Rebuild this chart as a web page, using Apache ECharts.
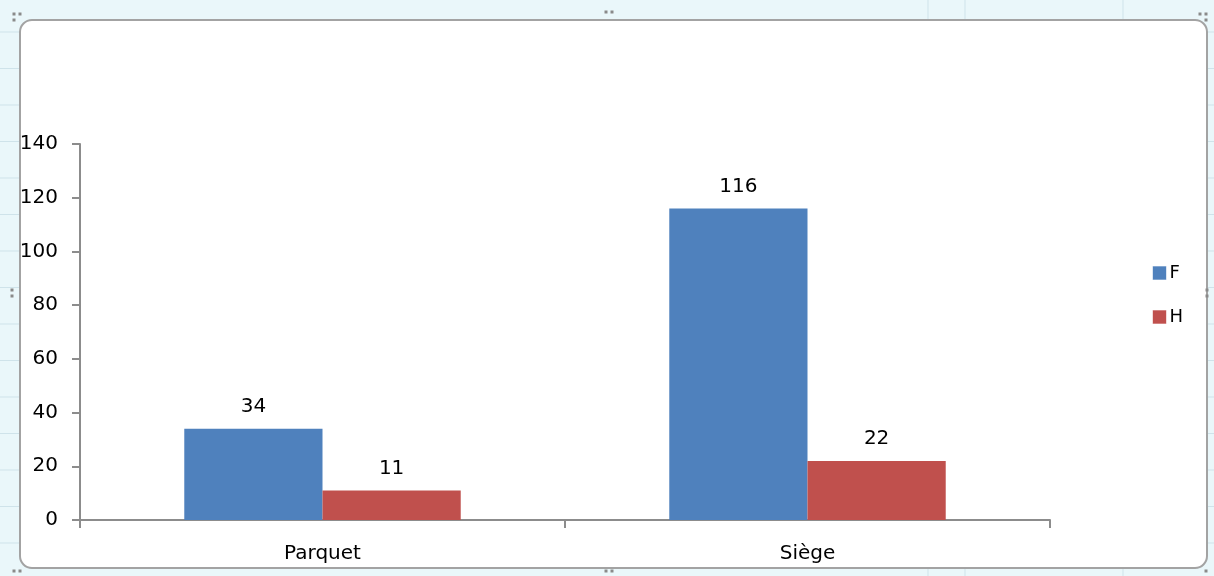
<!DOCTYPE html>
<html>
<head>
<meta charset="utf-8">
<title>F / H</title>
<style>
  html, body { margin: 0; padding: 0; background: #eaf7fa; }
  #chart { width: 1214px; height: 576px; }
</style>
<script src="https://cdn.jsdelivr.net/npm/echarts@6/dist/echarts.min.js"></script>
</head>
<body>
<div id="chart"></div>
<script>
// données
var categories = ['Parquet', 'Siège'];
var seriesNames = ['F', 'H'];
var valuesF = [34, 116];
var valuesH = [11, 22];
var yTicks = [0, 20, 40, 60, 80, 100, 120, 140];

var colors = ['#4f81bd', '#c0504d'];
var font = 'DejaVu Sans, Verdana, sans-serif';

// fond "tableur" : lignes de cellules autour du cadre
var sheet = [];
for (var y = 32; y < 576; y += 36.5) {
    sheet.push({ type: 'line', silent: true, z: -10,
        shape: { x1: 0, y1: y, x2: 1214, y2: y },
        style: { stroke: '#cfe3ea', lineWidth: 1 } });
}
[928, 965, 1123].forEach(function (x) {
    sheet.push({ type: 'line', silent: true, z: -10,
        shape: { x1: x, y1: 0, x2: x, y2: 576 },
        style: { stroke: '#cfe3ea', lineWidth: 1 } });
});
// cadre du graphique
sheet.push({ type: 'rect', silent: true, z: -5,
    shape: { x: 20, y: 20, width: 1187, height: 548, r: 12 },
    style: { fill: '#ffffff', stroke: '#a3a3a3', lineWidth: 2 } });
// poignées
[[606, 12], [612, 12], [606, 571], [612, 571], [12, 290], [12, 296], [1207, 290], [1207, 296],
 [14, 14], [20, 14], [14, 20], [1200, 14], [1206, 14], [1206, 20], [14, 571], [20, 571], [1206, 571]]
    .forEach(function (p) {
        sheet.push({ type: 'rect', silent: true, z: -4,
            shape: { x: p[0] - 1.5, y: p[1] - 1.5, width: 3, height: 3 },
            style: { fill: '#8a8a8a' } });
    });

var chart = echarts.init(document.getElementById('chart'));
chart.setOption({
    animation: false,
    color: colors,
    graphic: sheet,
    grid: { left: 80, right: 164, top: 144, bottom: 56, containLabel: false },
    legend: {
        data: seriesNames,
        orient: 'vertical',
        left: 1152,
        top: 264,
        padding: 0,
        itemWidth: 14,
        itemHeight: 14,
        itemGap: 26,
        itemStyle: { borderColor: 'rgba(255,255,255,0.6)', borderWidth: 1 },
        icon: 'rect',
        textStyle: { fontFamily: font, fontSize: 18, color: '#000', padding: [0, 0, 0, -2] }
    },
    xAxis: {
        type: 'category',
        data: categories,
        axisLine: { lineStyle: { color: '#8c8c8c', width: 2 } },
        axisTick: { show: true, length: 8, alignWithLabel: false, lineStyle: { color: '#8c8c8c', width: 2 } },
        axisLabel: { fontFamily: font, fontSize: 20, color: '#000', margin: 24 }
    },
    yAxis: {
        type: 'value',
        min: yTicks[0],
        max: yTicks[yTicks.length - 1],
        interval: yTicks[1] - yTicks[0],
        splitLine: { show: false },
        axisLine: { show: true, lineStyle: { color: '#8c8c8c', width: 2 } },
        axisTick: { show: true, length: 8, lineStyle: { color: '#8c8c8c', width: 2 } },
        axisLabel: { fontFamily: font, fontSize: 20, color: '#000', margin: 22 }
    },
    series: [
        {
            name: seriesNames[0], type: 'bar', data: valuesF,
            barGap: '0%', barCategoryGap: '43%',
            label: { show: true, position: 'top', distance: 12, fontFamily: font, fontSize: 20, color: '#000' }
        },
        {
            name: seriesNames[1], type: 'bar', data: valuesH,
            barGap: '0%', barCategoryGap: '43%',
            label: { show: true, position: 'top', distance: 12, fontFamily: font, fontSize: 20, color: '#000' }
        }
    ]
});
</script>
</body>
</html>
